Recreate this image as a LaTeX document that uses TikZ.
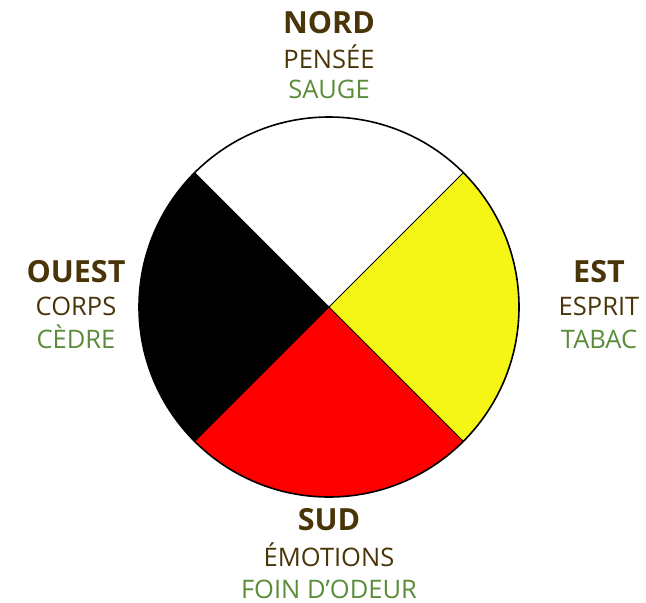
\documentclass[tikz,border=0pt]{standalone}
\usepackage{fontspec}
\setmainfont{Open Sans}
\usetikzlibrary{positioning}
\definecolor{titlebrown}{HTML}{4A3508}
\definecolor{herbgreen}{HTML}{5B8C3A}
\definecolor{wheelyellow}{HTML}{F5F516}
\definecolor{wheelred}{HTML}{FF0000}
\begin{document}
\begin{tikzpicture}[x=1pt,y=1pt]
    \tikzstyle{every node}=[inner sep=0,anchor=base]
    \tikzstyle{dir}=[text=titlebrown,font=\fontsize{30.5}{36}\selectfont\bfseries]
    \tikzstyle{sense}=[text=titlebrown,font=\fontsize{25.5}{30}\selectfont]
    \tikzstyle{herb}=[text=herbgreen,font=\fontsize{25.5}{30}\selectfont]
    \useasboundingbox (0,0) rectangle (646,-603);
    \coordinate (c) at (329,-307);
    % quadrants of the wheel
    \foreach \a/\col in {45/white,135/black,225/wheelred,315/wheelyellow} {
        \fill[\col] (c) -- ++(\a:190) arc (\a:\a+90:190) -- cycle;
    }
    \foreach \a in {45,135,225,315} {
        \draw[line width=1] (c) -- ++(\a:190);
    }
    \draw[line width=1.6] (c) circle (190);
    % labels
    \node[dir] (nord) at (329,-33) {NORD};
    \node[sense] (pensee) at (329,-68) {PENSÉE};
    \node[herb] (sauge) at (329,-98) {SAUGE};
    \node[dir] (ouest) at (76,-282) {OUEST};
    \node[sense] (corps) at (76,-315) {CORPS};
    \node[herb] (cedre) at (76,-348) {CÈDRE};
    \node[dir] (est) at (599,-282) {EST};
    \node[sense] (esprit) at (599,-315) {ESPRIT};
    \node[herb] (tabac) at (599,-348) {TABAC};
    \node[dir] (sud) at (329,-530) {SUD};
    \node[sense] (emotions) at (329,-566) {ÉMOTIONS};
    \node[herb] (foin) at (329,-598) {FOIN D’ODEUR};
\end{tikzpicture}
\end{document}
